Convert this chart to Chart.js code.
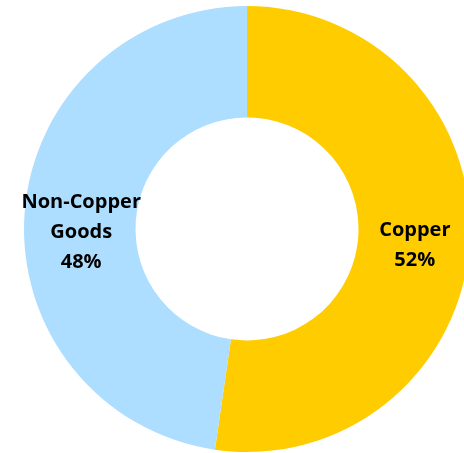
<!DOCTYPE html>
<html>
<head>
<meta charset="utf-8">
<script src="https://cdn.jsdelivr.net/npm/chart.js@4"></script>
<style>
  html, body { margin: 0; padding: 0; background: #fff; overflow: hidden; }
  #wrap { position: absolute; left: 0; top: 0; width: 494px; height: 458px; }
</style>
</head>
<body>
<div id="wrap"><canvas id="chart"></canvas></div>
<script>
const categories = ["Copper", "Non-Copper Goods"];
const labelLines = [["Copper"], ["Non-Copper", "Goods"]];
const shares = [52.3, 47.7];
const colors = ["#FFCC00", "#ADDEFF"];

// draws the category name and percentage on each slice
const sliceLabels = {
  id: "sliceLabels",
  afterDatasetsDraw(chart) {
    const ctx = chart.ctx;
    const meta = chart.getDatasetMeta(0);
    ctx.save();
    ctx.font = "bold 20px 'Open Sans'";
    ctx.fillStyle = "#000";
    ctx.textAlign = "center";
    ctx.textBaseline = "middle";
    const lineH = 30;
    meta.data.forEach((arc, i) => {
      const p = arc.tooltipPosition();
      const lines = labelLines[i].concat([Math.round(shares[i]) + "%"]);
      const top = p.y - (lines.length - 1) * lineH / 2 + (i === 1 ? 15 : 4);
      lines.forEach((t, k) => ctx.fillText(t, p.x + 1, top + k * lineH));
    });
    ctx.restore();
  }
};

new Chart(document.getElementById("chart"), {
  type: "doughnut",
  data: {
    labels: categories,
    datasets: [{
      data: shares,
      backgroundColor: colors,
      borderWidth: 0
    }]
  },
  options: {
    responsive: true,
    maintainAspectRatio: false,
    animation: false,
    cutout: "50%",
    layout: { padding: 6 },
    plugins: {
      legend: { display: false },
      tooltip: { enabled: false }
    }
  },
  plugins: [sliceLabels]
});
</script>
</body>
</html>
